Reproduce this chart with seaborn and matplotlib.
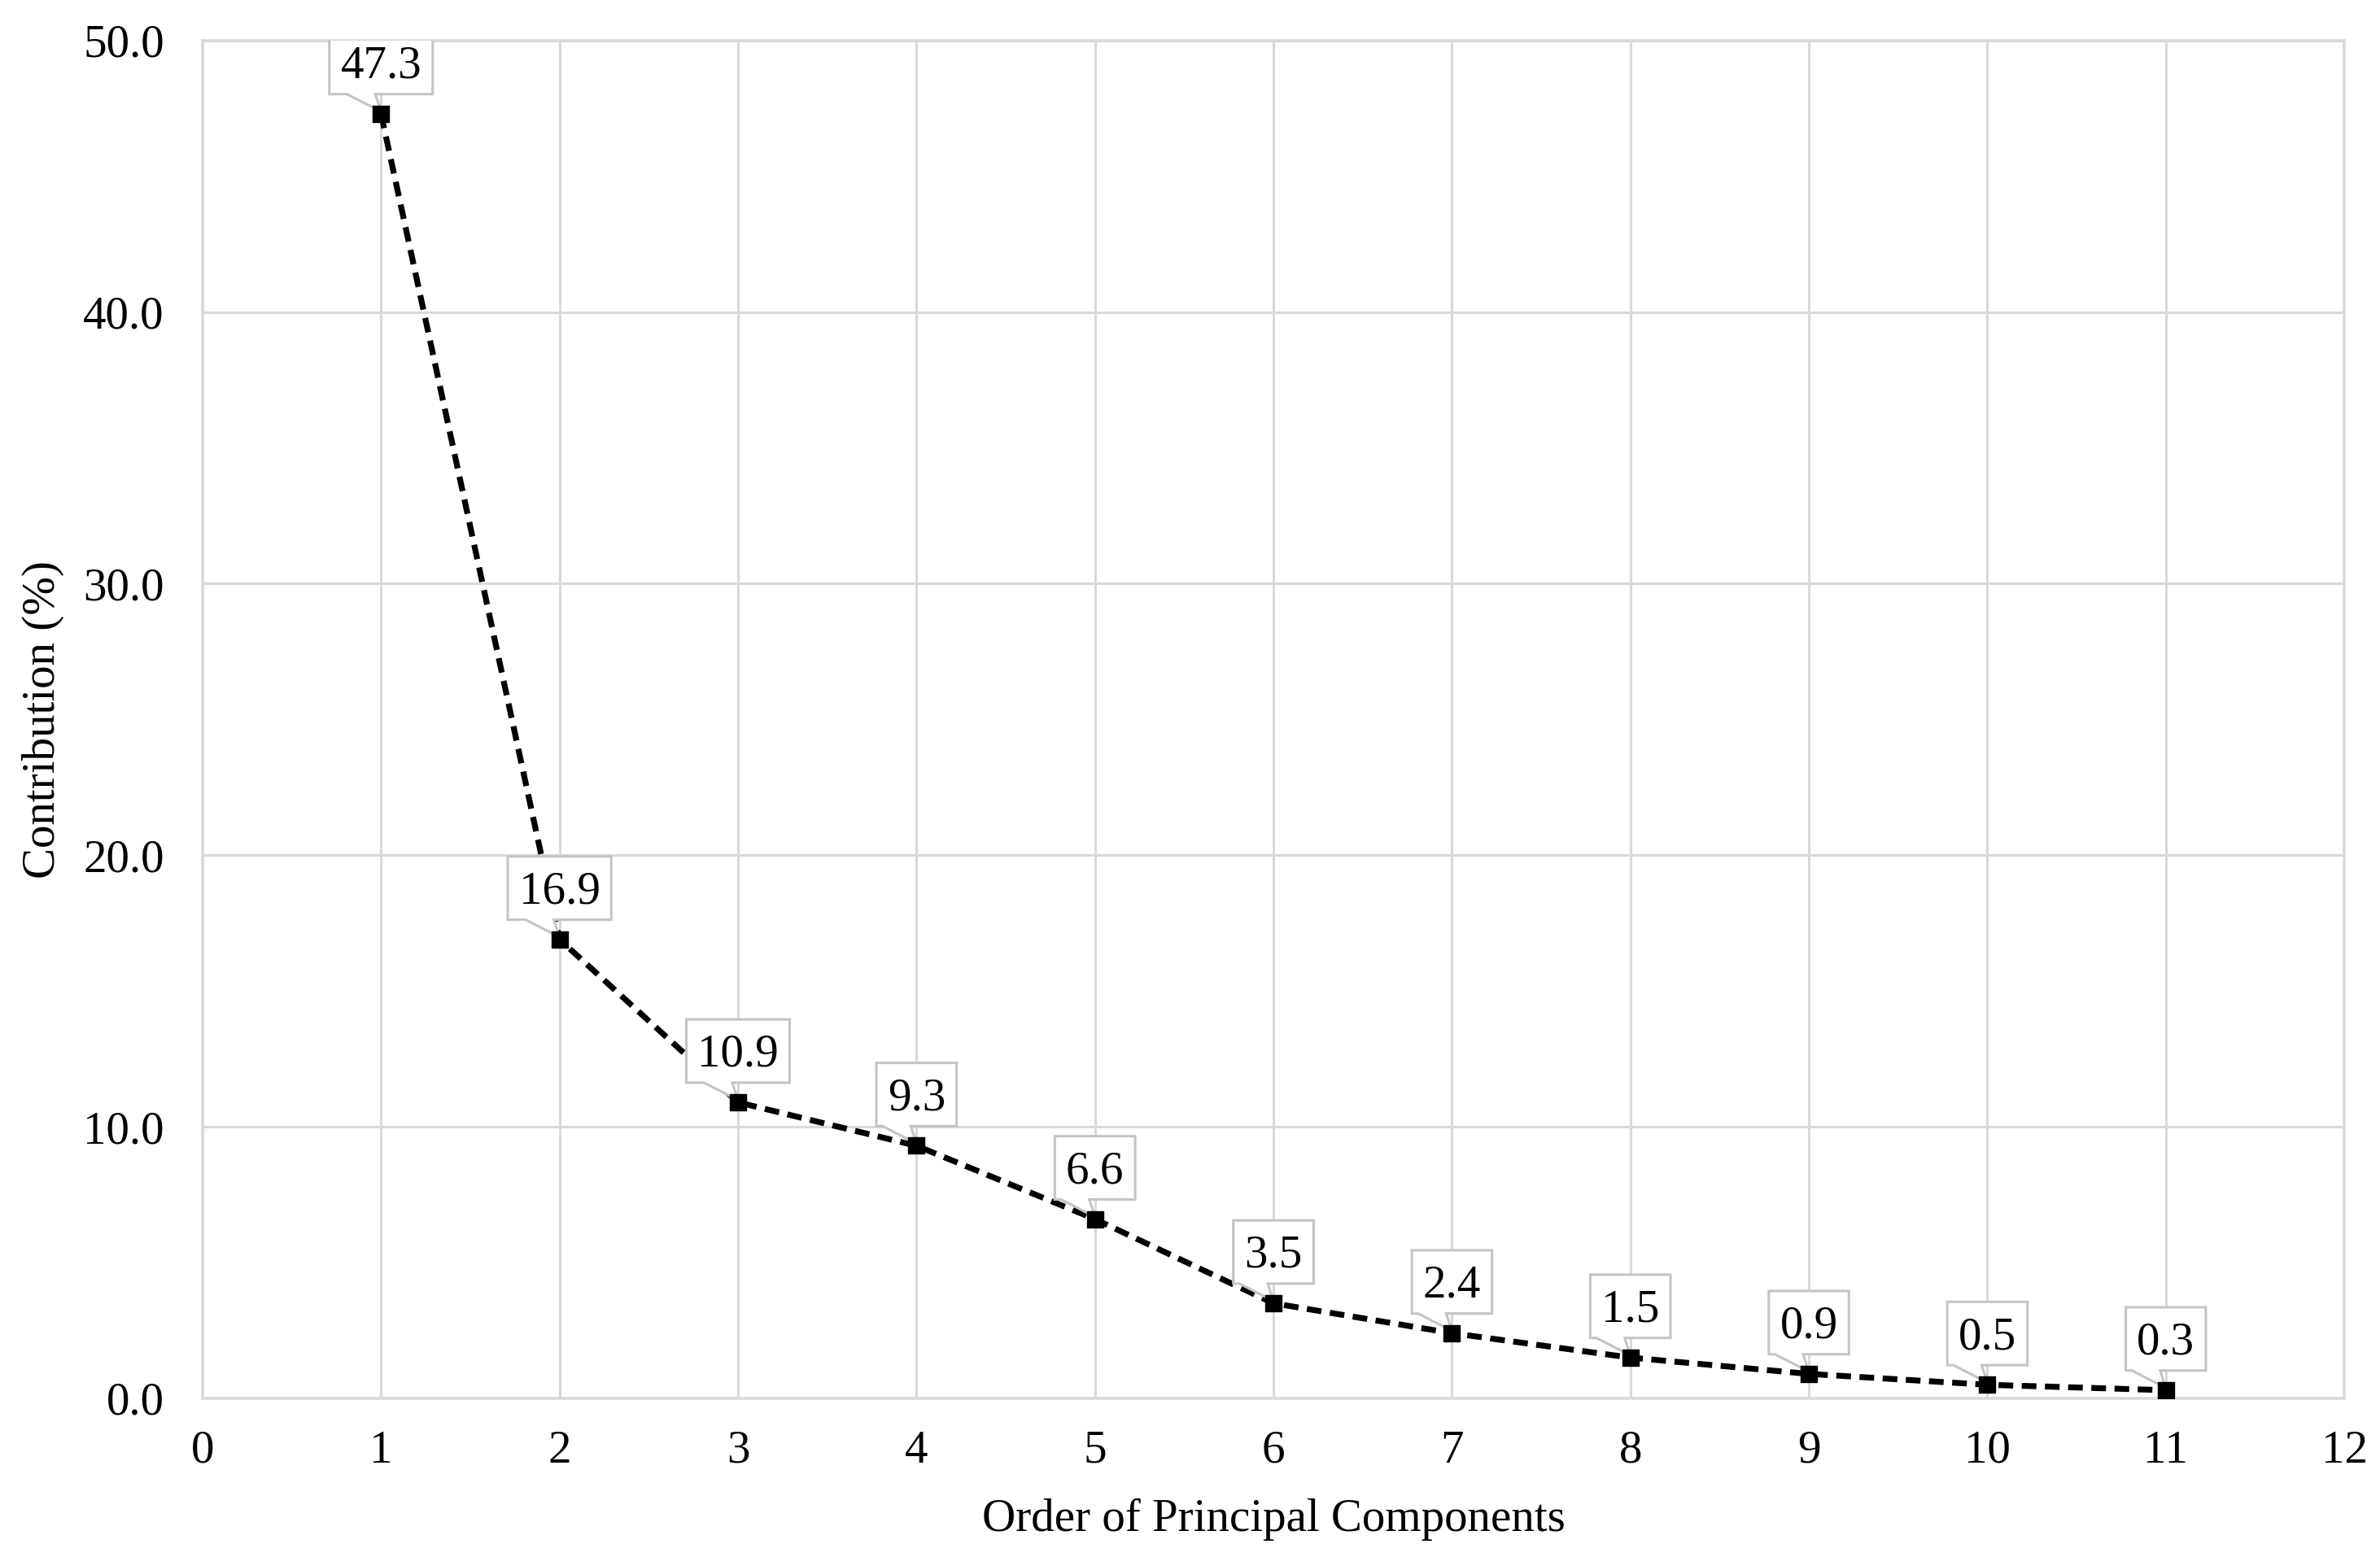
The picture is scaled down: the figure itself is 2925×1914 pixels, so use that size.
import numpy as np
import pandas as pd
import matplotlib
matplotlib.use("Agg")
import matplotlib.pyplot as plt
import seaborn as sns
from matplotlib.patches import Polygon

# ---- data ----
components = [1, 2, 3, 4, 5, 6, 7, 8, 9, 10, 11]
contribution = [47.3, 16.9, 10.9, 9.3, 6.6, 3.5, 2.4, 1.5, 0.9, 0.5, 0.3]
point_labels = ["47.3", "16.9", "10.9", "9.3", "6.6", "3.5", "2.4", "1.5", "0.9", "0.5", "0.3"]
x_ticks = list(range(0, 13))
y_ticks = [0, 10, 20, 30, 40, 50]
x_title = "Order of Principal Components"
y_title = "Contribution (%)"

df = pd.DataFrame({"component": components, "contribution": contribution})

sns.set_theme(style="whitegrid")
plt.rcParams["font.family"] = ["Liberation Serif", "DejaVu Serif"]

GRID = "#d9d9d9"
BOX_EC = "#c4c4c4"
FS = 20.5
DPI = 200

fig = plt.figure(figsize=(14.625, 9.57), dpi=DPI)
fig.patch.set_facecolor("white")
ax = fig.add_axes([0.0851, 0.1019, 0.8999, 0.8721])
ax.set_facecolor("white")

# dashed line
sns.lineplot(data=df, x="component", y="contribution", color="black",
             linewidth=2.6, linestyle=(0, (2.5, 1.45)), ax=ax, zorder=3,
             legend=False)
# square markers
sns.scatterplot(data=df, x="component", y="contribution", marker="s", s=55,
                color="black", edgecolor="black", linewidth=0.5, ax=ax, zorder=8,
                legend=False)

ax.set_xlim(0, 12)
ax.set_ylim(0, 50)
ax.set_xticks(x_ticks)
ax.set_xticklabels([str(t) for t in x_ticks])
ax.set_yticks(y_ticks)
ax.set_yticklabels([f"{t:.1f}" for t in y_ticks])
ax.tick_params(axis="both", length=0, labelsize=FS, colors="black")
ax.tick_params(axis="x", pad=14)
ax.tick_params(axis="y", pad=17)

ax.grid(True, color=GRID, linewidth=1.1)
ax.set_axisbelow(True)
for sp in ax.spines.values():
    sp.set_visible(True)
    sp.set_color(GRID)
    sp.set_linewidth(1.3)

ax.set_xlabel(x_title, fontsize=FS, color="black")
ax.set_ylabel(y_title, fontsize=FS, color="black")
ax.xaxis.set_label_coords(0.5, -0.0737)
ax.yaxis.set_label_coords(-0.0646, 0.5)

# ---- Excel-style callouts ----
pt = DPI / 72.0
BOX_H = 28.0        # box height (pt)
BOX_CY = 22.7       # box centre above point (pt)
HPAD = 4.9          # horizontal padding (pt)
DIGIT_H = 0.66 * FS

fig.canvas.draw()
renderer = fig.canvas.get_renderer()
for xv, yv, lab in zip(components, contribution, point_labels):
    p = ax.transData.transform((xv, yv))
    t = ax.text(xv, yv, lab, fontsize=FS, color="black", ha="center", va="baseline",
                zorder=7,
                transform=ax.transData + matplotlib.transforms.ScaledTranslation(
                    0, (BOX_CY - DIGIT_H / 2) / 72.0, fig.dpi_scale_trans))
    tw = t.get_window_extent(renderer).width / pt
    half_w = tw / 2 + HPAD
    top = BOX_CY + BOX_H / 2
    bot = BOX_CY - BOX_H / 2
    outline_pt = np.array([
        (-half_w, top), (half_w, top), (half_w, bot),
        (-2.5, bot), (0.0, 1.0), (-15.0, bot),
        (-half_w, bot),
    ])
    outline_disp = p + outline_pt * pt
    outline_data = ax.transData.inverted().transform(outline_disp)
    ax.add_patch(Polygon(outline_data, closed=True, facecolor="white",
                         edgecolor=BOX_EC, linewidth=1.1, zorder=6,
                         joinstyle="miter"))

fig.savefig("out.png", dpi=DPI, facecolor="white")
